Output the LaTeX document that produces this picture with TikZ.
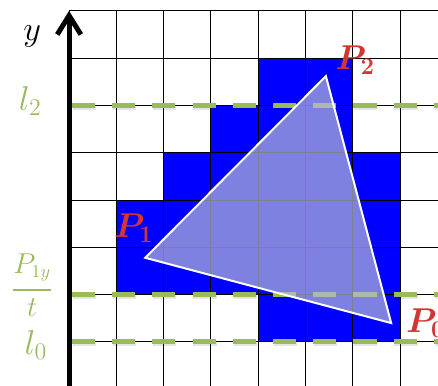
\documentclass[tikz,border=0pt]{standalone}
\usepackage{amsmath, amsfonts, amssymb, bm}
\usepackage{tikz}
\usetikzlibrary{arrows.meta}
\usetikzlibrary{positioning}

\definecolor{lvlgreen}{RGB}{155,187,89}
\definecolor{ptred}{RGB}{212,52,50}
\definecolor{trifill}{RGB}{180,185,210}

\begin{document}
\begin{tikzpicture}[
    level/.style={lvlgreen, line width=3pt, dash pattern=on 0.49cm off 0.36cm},
    levelshadow/.style={black, opacity=0.1, line width=3pt, dash pattern=on 0.49cm off 0.36cm},
    ptlabel/.style={ptred, font=\fontsize{21}{23}\selectfont, inner sep=0pt},
    lvllabel/.style={lvlgreen, font=\fontsize{22}{24}\selectfont, inner sep=0pt}
  ]
      \useasboundingbox (-1.46,-0.91) rectangle (7.80,7.23);
      \clip (-1.46,-0.91) rectangle (7.80,7.23);

      % Fill the pixels covered by the triangle
      \foreach \y/\a/\b in {5/4/5, 4/3/5, 3/2/6, 2/1/6, 1/1/6, 0/4/6} {
        \foreach \x in {\a,...,\b} {
          \fill[blue] (\x,\y) rectangle ++(1,1);
        }
      }

      % Draw pixel grid
      \draw[line width=0.6pt] (0,-1) grid (8,7);

      % Scan lines
      \foreach \y in {0,1,5} {
        \draw[levelshadow] (0.08,\y-0.04) -- (7.8,\y-0.04);
        \draw[level] (0.06,\y) -- (7.8,\y);
      }

      % Triangle
      \coordinate (P0) at (6.81,0.40);
      \coordinate (P1) at (1.61,1.78);
      \coordinate (P2) at (5.43,5.62);
      \filldraw[fill=trifill, fill opacity=0.7, draw=white, line width=1.2pt] (P0) -- (P1) -- (P2) -- cycle;

      % Draw axis
      \draw[line width=3pt, -{Straight Barb[length=4mm, width=5mm]}] (0,-1) -- (0,7);

      % Labels
      \node[font=\fontsize{20}{22}\selectfont, inner sep=0pt] (ylabel) at (-0.78,6.45) {$y$};
      \node[lvllabel] (l2) at (-0.82,5.1) {$l_2$};
      \node[lvllabel, font=\fontsize{16}{18}\selectfont] (p1yt) at (-0.78,1.2) {$\genfrac{}{}{1.5pt}{0}{P_{1y}}{t}$};
      \node[lvllabel] (l0) at (-0.70,-0.06) {$l_0$};
      \node[ptlabel] (lblP2) at (6.05,5.96) {$\bm{P_2}$};
      \node[ptlabel] (lblP1) at (1.37,2.41) {$\bm{P_1}$};
      \node[ptlabel, anchor=west] (lblP0) at (7.12,0.40) {$\bm{P_0}$};
    \end{tikzpicture}
\end{document}
